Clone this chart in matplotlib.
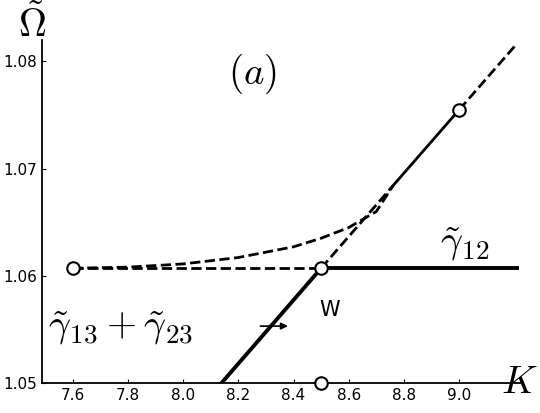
import matplotlib.pyplot as plt

plt.rcParams["mathtext.fontset"] = "cm"

# data
k_curve = [7.6, 7.8, 8.0, 8.2, 8.4, 8.5, 8.6, 8.7, 8.76]
om_curve = [1.0607, 1.0608, 1.0611, 1.0617, 1.0627, 1.0635, 1.0645, 1.0660, 1.0684]
k_flat_dash = [7.6, 8.5]
k_flat_solid = [8.5, 9.21]
om_flat = 1.0607
k_line = [8.14, 8.5, 8.76, 9.0, 9.21]
om_line = [1.05, 1.0607, 1.0684, 1.0755, 1.0817]
k_pts = [7.6, 8.5, 9.0, 8.5]
om_pts = [1.0607, 1.0607, 1.0755, 1.05]
xticks = [7.6, 7.8, 8.0, 8.2, 8.4, 8.6, 8.8, 9.0]
yticks = [1.05, 1.06, 1.07, 1.08]

fig = plt.figure(figsize=(5.4, 4.13), dpi=100)
ax = fig.add_axes([0.078, 0.073, 0.885, 0.83])
ax.set_xlim(7.49, 9.22)
ax.set_ylim(1.05, 1.082)

ax.plot(k_curve, om_curve, "k--", lw=2)
ax.plot(k_flat_dash, [om_flat] * 2, "k--", lw=2)
ax.plot(k_flat_solid, [om_flat] * 2, "k-", lw=2.8)
ax.plot(k_line[:2], om_line[:2], "k-", lw=2.8)
ax.plot(k_line[1:3], om_line[1:3], "k--", lw=2)
ax.plot(k_line[2:4], om_line[2:4], "k-", lw=2)
ax.plot(k_line[3:], om_line[3:], "k--", lw=2)
ax.plot(k_pts, om_pts, "o", ms=9, mfc="white", mec="black", mew=1.5, clip_on=False, zorder=5)

ax.text(8.25, 1.0788, "$(a)$", fontsize=28, ha="center", va="center")
ax.text(9.02, 1.0630, r"$\tilde{\gamma}_{12}$", fontsize=28, ha="center", va="center")
ax.text(8.53, 1.0568, "W", fontsize=15, ha="center", va="center")
ax.annotate("", xy=(8.39, 1.0553), xytext=(8.27, 1.0553),
            arrowprops=dict(arrowstyle="-|>", color="black", lw=1.2))
ax.text(7.51, 1.0551, r"$\tilde{\gamma}_{13}+\tilde{\gamma}_{23}$", fontsize=28, ha="left", va="center")

for s in ["top", "right"]:
    ax.spines[s].set_visible(False)
ax.spines["left"].set_linewidth(1.3)
ax.spines["bottom"].set_linewidth(1.3)
ax.set_xticks(xticks)
ax.set_yticks(yticks)
ax.set_xticklabels([f"{v:.1f}" for v in xticks])
ax.set_yticklabels([f"{v:.2f}" for v in yticks])
ax.tick_params(labelsize=11, direction="in", length=3)
fig.text(0.962, 0.075, "$K$", fontsize=28, ha="center", va="center")
fig.text(0.06, 0.94, r"$\tilde{\Omega}$", fontsize=28, ha="center", va="center")

fig.savefig("out.png")
